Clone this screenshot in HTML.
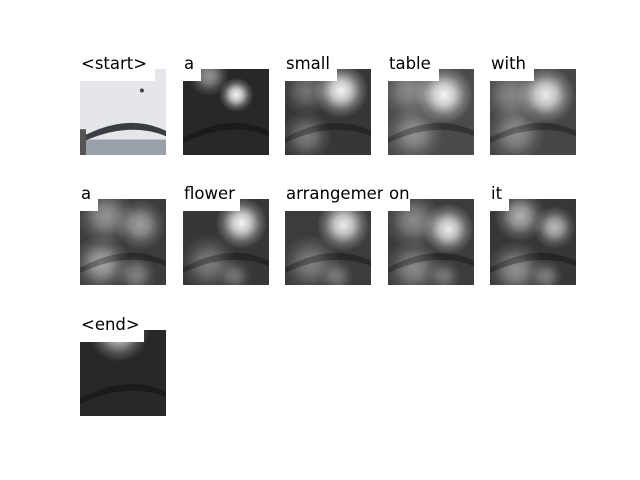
<!DOCTYPE html>
<html><head><meta charset="utf-8"><style>
html,body{margin:0;padding:0;background:#fff;}
svg{display:block;}
text{font-family:"DejaVu Sans","Liberation Sans",sans-serif;font-size:16.5px;fill:#000;}
</style></head><body>
<svg id="fig" width="640" height="480" viewBox="0 0 640 480">
<defs>
<radialGradient id="blob"><stop offset="0" stop-color="#fff" stop-opacity="1"/><stop offset="0.35" stop-color="#fff" stop-opacity="0.75"/><stop offset="0.7" stop-color="#fff" stop-opacity="0.25"/><stop offset="1" stop-color="#fff" stop-opacity="0"/></radialGradient>
</defs>
</svg>
<script>
const words = ["<start>","a","small","table","with","a","flower","arrangemer","on","it","<end>"];
const labelWidths = [75,18,52,51,44,18,57,98,22,19,64];
const baseGray = [0,40,55,75,70,60,55,60,60,55,40];
// blobs: [cx, cy, r, opacity] in fractions of the image size
const blobs = [
 [],
 [[0.62,0.3,0.2,0.95],[0.3,0.08,0.24,0.5]],
 [[0.65,0.25,0.32,0.95],[0.25,0.25,0.3,0.3],[0.25,0.78,0.3,0.35]],
 [[0.65,0.3,0.34,0.95],[0.25,0.25,0.34,0.35],[0.3,0.75,0.34,0.4]],
 [[0.65,0.3,0.34,0.9],[0.25,0.3,0.34,0.35],[0.3,0.75,0.34,0.4]],
 [[0.3,0.2,0.34,0.45],[0.7,0.3,0.3,0.5],[0.25,0.75,0.34,0.55],[0.65,0.88,0.24,0.35]],
 [[0.68,0.28,0.3,0.95],[0.3,0.75,0.34,0.35],[0.6,0.9,0.2,0.3]],
 [[0.68,0.3,0.31,0.9],[0.3,0.75,0.34,0.35],[0.6,0.9,0.2,0.3]],
 [[0.7,0.35,0.3,0.9],[0.3,0.25,0.34,0.4],[0.3,0.8,0.34,0.4],[0.65,0.9,0.2,0.3]],
 [[0.35,0.2,0.3,0.6],[0.75,0.33,0.25,0.65],[0.3,0.82,0.34,0.45],[0.65,0.9,0.2,0.35]],
 [[0.45,0.02,0.35,0.8]]
];
const colX = [80,183,285,388,490];
const rowY = [69,199,330];
const S = 86;
const svg = document.getElementById('fig');
const NS = 'http://www.w3.org/2000/svg';
function mk(t,a){const e=document.createElementNS(NS,t);for(const k in a)e.setAttribute(k,a[k]);return e;}
words.forEach((w,i)=>{
  const x=colX[i%5], y=rowY[Math.floor(i/5)];
  const g=mk('g',{});
  
  
  const b=baseGray[i];
  if(i===0){
    const sky=mk('rect',{x:x,y:y,width:S,height:S,fill:'#e4e6ea'});
    
    
    g.appendChild(sky);
    g.appendChild(mk('rect',{x:x,y:y+S*0.82,width:S,height:S*0.18,fill:'#9aa0a8'}));
    g.appendChild(mk('path',{d:`M${x} ${y+S*0.8} Q${x+S*0.55} ${y+S*0.5} ${x+S} ${y+S*0.72} L${x+S} ${y+S*0.78} Q${x+S*0.55} ${y+S*0.6} ${x} ${y+S*0.86}Z`,fill:'#3a3d44'}));
    g.appendChild(mk('rect',{x:x,y:y+S*0.7,width:6,height:S*0.3,fill:'#555'}));
    g.appendChild(mk('circle',{cx:x+S*0.72,cy:y+S*0.25,r:2,fill:'#444'}));
  } else {
    const base=mk('rect',{x:x,y:y,width:S,height:S,fill:`rgb(${b},${b},${b})`});
    
    
    g.appendChild(base);
    const cp=mk('clipPath',{id:'c'+i});cp.appendChild(mk('rect',{x:x,y:y,width:S,height:S}));g.appendChild(cp);
    const bg=mk('g',{'clip-path':'url(#c'+i+')'});
    blobs[i].forEach(bl=>{
      const c=mk('circle',{cx:x+bl[0]*S,cy:y+bl[1]*S,r:bl[2]*S,fill:'url(#blob)',opacity:bl[3]});
      
      
      bg.appendChild(c);
    });
    bg.appendChild(mk('path',{d:`M${x} ${y+S*0.8} Q${x+S*0.55} ${y+S*0.5} ${x+S} ${y+S*0.72} L${x+S} ${y+S*0.78} Q${x+S*0.55} ${y+S*0.6} ${x} ${y+S*0.86}Z`,fill:'#000',opacity:0.3}));
    g.appendChild(bg);
  }
  const lcp=mk('clipPath',{id:'l'+i});lcp.appendChild(mk('rect',{x:x,y:y-30,width:98,height:45}));g.appendChild(lcp);
  const lg=mk('g',{'clip-path':'url(#l'+i+')'});
  const lb=mk('rect',{x:x,y:y-16,width:labelWidths[i],height:28,fill:'#fff'});
  
  
  lg.appendChild(lb);
  const t=mk('text',{x:x+1,y:y});
  
  
  t.textContent=w;
  lg.appendChild(t);
  g.appendChild(lg);
  svg.appendChild(g);
});
</script>
</body></html>
